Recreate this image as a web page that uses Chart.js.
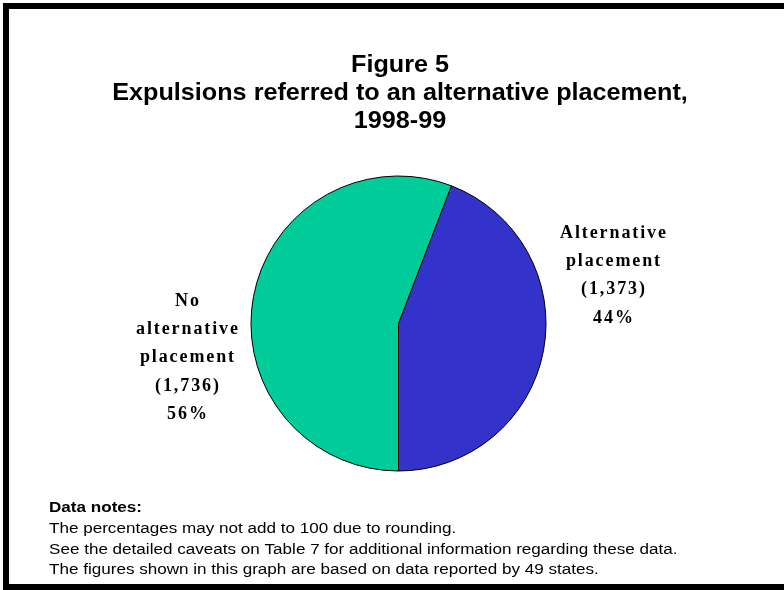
<!DOCTYPE html>
<html>
<head>
<meta charset="utf-8">
<script src="https://cdn.jsdelivr.net/npm/chart.js@4/dist/chart.umd.min.js"></script>
<style>
  html, body { margin: 0; padding: 0; background: #ffffff; }
  #wrap { width: 784px; height: 590px; }
</style>
</head>
<body>
<div id="wrap"><canvas id="c" width="784" height="590"></canvas></div>
<script>
// ---- data ----
const categories = ['Alternative placement', 'No alternative placement'];
const counts = [1373, 1736];
const countLabels = ['(1,373)', '(1,736)'];
const percentLabels = ['44%', '56%'];
const categoryLines = [['Alternative', 'placement'], ['No', 'alternative', 'placement']];
const titleLines = ['Figure 5', 'Expulsions referred to an alternative placement,', '1998-99'];
const notesHeading = 'Data notes:';
const notesLines = [
  'The percentages may not add to 100 due to rounding.',
  'See the detailed caveats on Table 7 for additional information regarding these data.',
  'The figures shown in this graph are based on data reported by 49 states.'
];

const total = counts.reduce((a, b) => a + b, 0);
// first slice ends exactly at the bottom of the pie
const startRotation = 180 - 360 * counts[0] / total;

function drawSpaced(ctx, text, cx, cy, spacing) {
  const chars = Array.from(text);
  const widths = chars.map(ch => ctx.measureText(ch).width);
  const totalW = widths.reduce((a, b) => a + b, 0) + spacing * (chars.length - 1);
  let x = cx - totalW / 2;
  ctx.textAlign = 'left';
  chars.forEach((ch, i) => {
    ctx.fillText(ch, x, cy);
    x += widths[i] + spacing;
  });
}

function drawStretched(ctx, text, x, y, sx, align) {
  ctx.save();
  ctx.translate(x, y);
  ctx.scale(sx, 1);
  ctx.textAlign = align;
  ctx.fillText(text, 0, 0);
  ctx.restore();
}

const decorPlugin = {
  id: 'decor',
  beforeDraw(chart) {
    const ctx = chart.ctx;
    ctx.save();
    ctx.fillStyle = '#ffffff';
    ctx.fillRect(0, 0, chart.width, chart.height);
    ctx.restore();
  },
  afterDraw(chart) {
    const ctx = chart.ctx;
    ctx.save();
    // frame
    ctx.fillStyle = '#000000';
    ctx.fillRect(3, 3, 6, 587);
    ctx.fillRect(3, 3, 781, 6);
    ctx.fillRect(3, 584, 781, 6);

    // title
    ctx.fillStyle = '#000000';
    ctx.font = 'bold 24px "Liberation Sans", Arial, sans-serif';
    ctx.textBaseline = 'alphabetic';
    const titleBase = [72, 100, 128];
    titleLines.forEach((t, i) => drawStretched(ctx, t, 400, titleBase[i], 1.05, 'center'));

    // slice labels
    const meta = chart.getDatasetMeta(0);
    ctx.font = 'bold 18px "Liberation Serif", "Times New Roman", serif';
    ctx.textBaseline = 'middle';
    const lineH = 28.3;
    const anchors = [
      { x: 613, y: 233 },
      { x: 187, y: 301 }
    ];
    meta.data.forEach((arc, i) => {
      const lines = categoryLines[i].concat([countLabels[i], percentLabels[i]]);
      lines.forEach((t, j) => drawSpaced(ctx, t, anchors[i].x, anchors[i].y + j * lineH, 1.9));
    });

    // notes
    ctx.textBaseline = 'alphabetic';
    ctx.font = 'bold 14px "Liberation Sans", Arial, sans-serif';
    drawStretched(ctx, notesHeading, 49, 512, 1.22, 'left');
    ctx.font = '14px "Liberation Sans", Arial, sans-serif';
    notesLines.forEach((t, i) => drawStretched(ctx, t, 49, 533 + i * 20.5, 1.22, 'left'));
    ctx.restore();
  }
};

new Chart(document.getElementById('c'), {
  type: 'pie',
  data: {
    labels: categories,
    datasets: [{
      data: counts,
      backgroundColor: ['rgb(51,51,204)', 'rgb(0,204,153)'],
      borderColor: '#000000',
      borderWidth: 1
    }]
  },
  options: {
    responsive: false,
    animation: false,
    rotation: startRotation,
    layout: { padding: { left: 250.5, top: 175.5, right: 237.5, bottom: 118.5 } },
    plugins: {
      legend: { display: false },
      tooltip: { enabled: false },
      title: { display: false }
    }
  },
  plugins: [decorPlugin]
});
</script>
</body>
</html>
